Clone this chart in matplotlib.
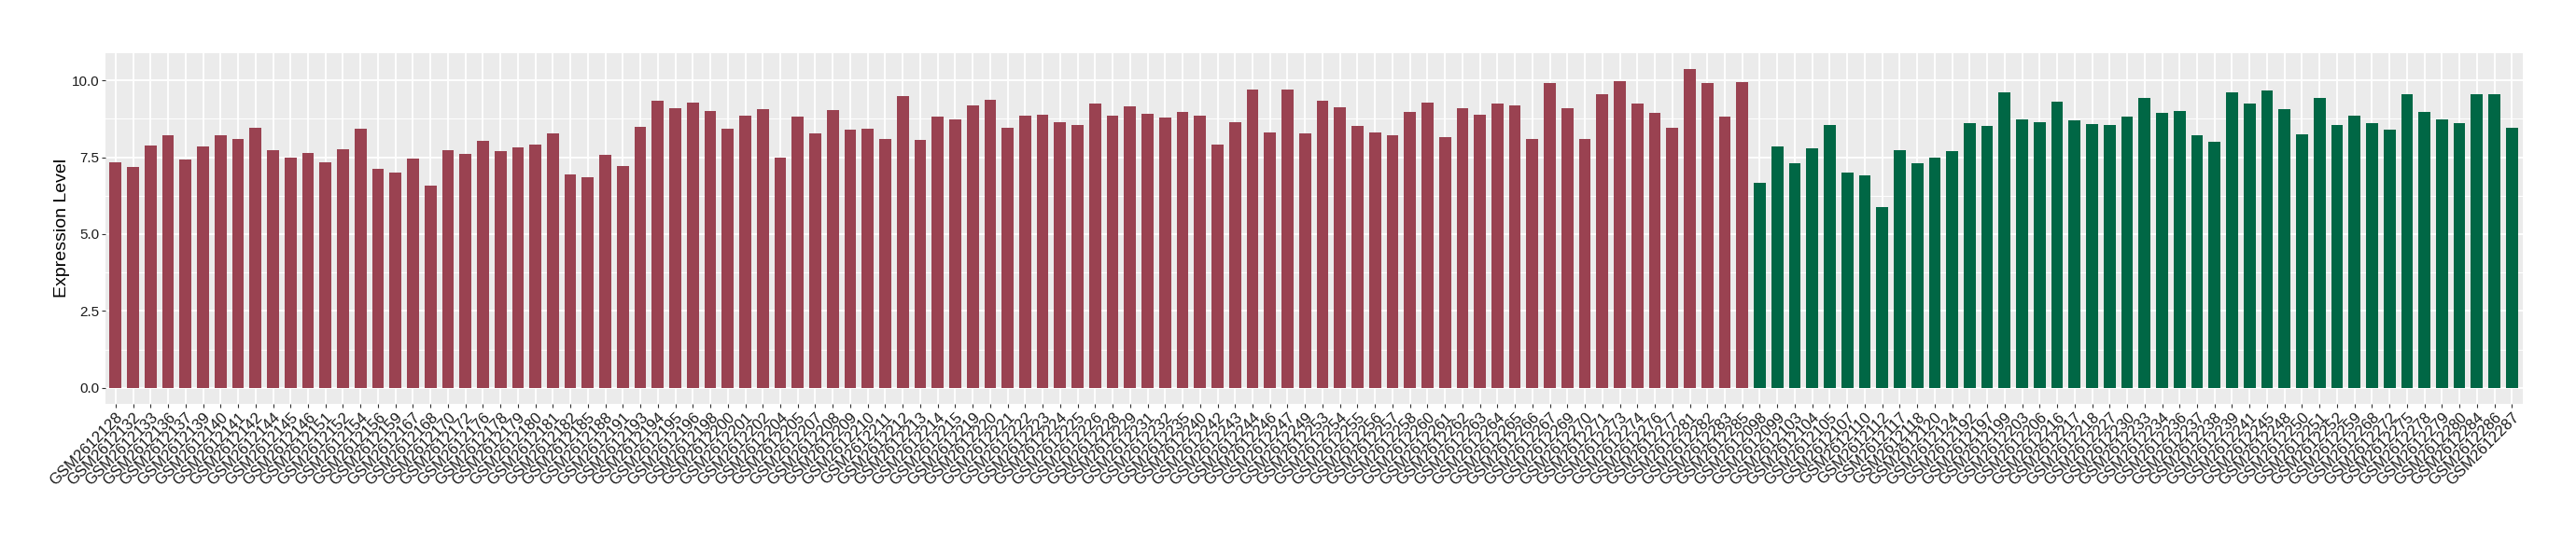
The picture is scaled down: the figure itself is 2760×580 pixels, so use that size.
import numpy as np
import matplotlib
matplotlib.use("Agg")
import matplotlib.pyplot as plt
from matplotlib.ticker import MultipleLocator

plt.rcParams['font.family'] = ['Liberation Sans', 'DejaVu Sans']

# sample ids (suffix after GSM26) for each group
group_a_ids = [
    12128, 12132, 12133, 12136, 12137, 12139, 12140, 12141, 12142, 12144,
    12145, 12146, 12151, 12152, 12154, 12156, 12159, 12167, 12168, 12170,
    12172, 12176, 12178, 12179, 12180, 12181, 12182, 12185, 12188, 12191,
    12193, 12194, 12195, 12196, 12198, 12200, 12201, 12202, 12204, 12205,
    12207, 12208, 12209, 12210, 12211, 12212, 12213, 12214, 12215, 12219,
    12220, 12221, 12222, 12223, 12224, 12225, 12226, 12228, 12229, 12231,
    12232, 12235, 12240, 12242, 12243, 12244, 12246, 12247, 12249, 12253,
    12254, 12255, 12256, 12257, 12258, 12260, 12261, 12262, 12263, 12264,
    12265, 12266, 12267, 12269, 12270, 12271, 12273, 12274, 12276, 12277,
    12281, 12282, 12283, 12285,
]
group_a_vals = [
    7.32, 7.17, 7.89, 8.20, 7.41, 7.86, 8.20, 8.10, 8.44, 7.74,
    7.50, 7.65, 7.32, 7.77, 8.41, 7.11, 6.99, 7.44, 6.59, 7.74,
    7.62, 8.04, 7.71, 7.83, 7.92, 8.26, 6.93, 6.86, 7.59, 7.20,
    8.50, 9.34, 9.10, 9.28, 9.01, 8.41, 8.86, 9.07, 7.50, 8.83,
    8.26, 9.04, 8.38, 8.41, 8.10, 9.50, 8.07, 8.83, 8.74, 9.19,
    9.37, 8.44, 8.86, 8.89, 8.65, 8.56, 9.25, 8.86, 9.16, 8.92,
    8.80, 8.98, 8.86, 7.92, 8.65, 9.71, 8.29, 9.71, 8.26, 9.34,
    9.13, 8.53, 8.29, 8.20, 8.98, 9.28, 8.14, 9.10, 8.89, 9.25,
    9.19, 8.10, 9.92, 9.10, 8.10, 9.56, 9.98, 9.25, 8.95, 8.44,
    10.37, 9.92, 8.83, 9.95,
]

group_b_ids = [
    12098, 12099, 12103, 12104, 12105, 12107, 12110, 12112, 12117, 12118,
    12120, 12124, 12192, 12197, 12199, 12203, 12206, 12216, 12217, 12218,
    12227, 12230, 12233, 12234, 12236, 12237, 12238, 12239, 12241, 12245,
    12248, 12250, 12251, 12252, 12259, 12268, 12272, 12275, 12278, 12279,
    12280, 12284, 12286, 12287,
]
group_b_vals = [
    6.68, 7.86, 7.29, 7.80, 8.56, 6.99, 6.90, 5.87, 7.74, 7.29,
    7.50, 7.71, 8.62, 8.53, 9.62, 8.74, 8.65, 9.31, 8.71, 8.59,
    8.56, 8.83, 9.44, 8.95, 9.01, 8.20, 8.01, 9.62, 9.25, 9.68,
    9.07, 8.23, 9.44, 8.56, 8.86, 8.62, 8.38, 9.56, 8.98, 8.74,
    8.62, 9.56, 9.56, 8.47,
]

color_a = '#9A4251'
color_b = '#006745'

labels = ['GSM26' + str(s) for s in group_a_ids + group_b_ids]
values = group_a_vals + group_b_vals
colors = [color_a] * len(group_a_vals) + [color_b] * len(group_b_vals)

fig = plt.figure(figsize=(27.6, 5.8), dpi=100)
ax = fig.add_axes([0.0408, 0.2534, 0.9384, 0.6488])
ax.set_facecolor('#EBEBEB')

x = np.arange(len(values))
ax.bar(x, values, width=0.68, color=colors, zorder=3)

ax.set_xlim(-0.6, len(values) - 0.4)
ymax = max(values)
ax.set_ylim(-0.05 * ymax, 1.05 * ymax)

ax.yaxis.set_major_locator(MultipleLocator(2.5))
ax.yaxis.set_minor_locator(MultipleLocator(1.25))
ax.yaxis.set_major_formatter(matplotlib.ticker.FormatStrFormatter('%.1f'))
ax.grid(which='major', color='white', linewidth=1.3, zorder=0)
ax.grid(which='minor', axis='y', color='white', linewidth=0.7, zorder=0)
ax.tick_params(which='minor', length=0)
ax.tick_params(which='major', length=2.75, width=0.8, color='#333333',
               labelsize=11, labelcolor='#1a1a1a', pad=2)

ax.set_xticks(x)
ax.set_xticklabels(labels, rotation=45, ha='right', va='top',
                   rotation_mode='anchor', fontsize=12)

for s in ax.spines.values():
    s.set_visible(False)

ax.set_ylabel('Expression Level', fontsize=14, labelpad=1)

fig.savefig('out.png', dpi=100)
